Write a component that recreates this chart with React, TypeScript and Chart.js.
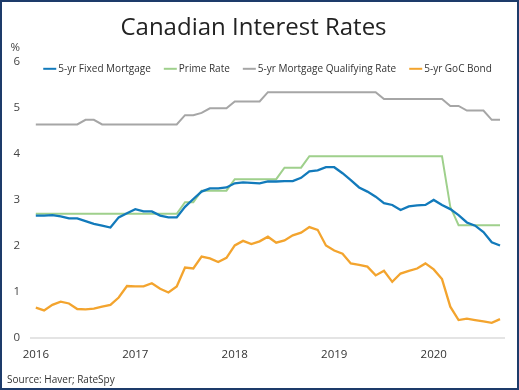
import React, { useEffect, useRef } from 'react';
import { Chart, registerables } from 'chart.js';

Chart.register(...registerables);

// ---- Data (monthly, Jan 2016 – Sep 2020) ----
const allMonths: string[] = [];
for (let y = 2016; y <= 2020; y++) {
  for (let m = 1; m <= 12; m++) allMonths.push(`${y}-${String(m).padStart(2, '0')}`);
}
const months = allMonths.slice(0, 57);

const yearLabels = ['2016', '2017', '2018', '2019', '2020'];
const yearTickIndex = yearLabels.map((y) => months.indexOf(`${y}-01`));

const fixedMortgage = [
  2.66, 2.66, 2.67, 2.64, 2.6, 2.6, 2.54, 2.48, 2.44, 2.4,
  2.62, 2.71, 2.8, 2.75, 2.75, 2.66, 2.62, 2.62, 2.85, 3.02,
  3.18, 3.25, 3.25, 3.27, 3.36, 3.38, 3.37, 3.36, 3.4, 3.4,
  3.41, 3.41, 3.48, 3.62, 3.64, 3.71, 3.71, 3.58, 3.43, 3.27,
  3.18, 3.07, 2.93, 2.89, 2.78, 2.86, 2.88, 2.89, 3.0, 2.89,
  2.8, 2.67, 2.51, 2.44, 2.3, 2.08, 2.01,
];

const primeRate = [
  2.7, 2.7, 2.7, 2.7, 2.7, 2.7, 2.7, 2.7, 2.7, 2.7,
  2.7, 2.7, 2.7, 2.7, 2.7, 2.7, 2.7, 2.7, 2.95, 2.95,
  3.2, 3.2, 3.2, 3.2, 3.45, 3.45, 3.45, 3.45, 3.45, 3.45,
  3.7, 3.7, 3.7, 3.95, 3.95, 3.95, 3.95, 3.95, 3.95, 3.95,
  3.95, 3.95, 3.95, 3.95, 3.95, 3.95, 3.95, 3.95, 3.95, 3.95,
  2.85, 2.45, 2.45, 2.45, 2.45, 2.45, 2.45,
];

const qualifyingRate = [
  4.64, 4.64, 4.64, 4.64, 4.64, 4.64, 4.74, 4.74, 4.64, 4.64,
  4.64, 4.64, 4.64, 4.64, 4.64, 4.64, 4.64, 4.64, 4.84, 4.84,
  4.89, 4.99, 4.99, 4.99, 5.14, 5.14, 5.14, 5.14, 5.34, 5.34,
  5.34, 5.34, 5.34, 5.34, 5.34, 5.34, 5.34, 5.34, 5.34, 5.34,
  5.34, 5.34, 5.19, 5.19, 5.19, 5.19, 5.19, 5.19, 5.19, 5.19,
  5.04, 5.04, 4.94, 4.94, 4.94, 4.74, 4.74,
];

const gocBond = [
  0.66, 0.6, 0.72, 0.79, 0.75, 0.63, 0.62, 0.64, 0.68, 0.72,
  0.88, 1.13, 1.12, 1.12, 1.19, 1.07, 0.99, 1.12, 1.53, 1.51,
  1.77, 1.73, 1.65, 1.74, 2.01, 2.11, 2.04, 2.1, 2.2, 2.07,
  2.12, 2.23, 2.29, 2.41, 2.35, 2.01, 1.9, 1.83, 1.62, 1.59,
  1.55, 1.36, 1.46, 1.22, 1.4, 1.46, 1.51, 1.62, 1.49, 1.28,
  0.68, 0.39, 0.42, 0.39, 0.36, 0.33, 0.41,
];

const seriesNames = ['5-yr Fixed Mortgage', 'Prime Rate', '5-yr Mortgage Qualifying Rate', '5-yr GoC Bond'];
const seriesColors = ['#127abb', '#9fd08c', '#a6a6a6', '#f3a42e'];
const seriesValues = [fixedMortgage, primeRate, qualifyingRate, gocBond];

const titleText = 'Canadian Interest Rates';
const unitText = '%';
const sourceText = 'Source: Haver; RateSpy';

const FONT = '"Open Sans", "Noto Sans", sans-serif';

const decorPlugin = {
  id: 'decor',
  afterDraw(chart: any) {
    const ctx = chart.ctx as CanvasRenderingContext2D;
    const area = chart.chartArea;
    ctx.save();

    // unit label above y ticks
    ctx.font = `11.5px ${FONT}`;
    ctx.fillStyle = '#444';
    ctx.textAlign = 'right';
    ctx.textBaseline = 'middle';
    ctx.fillText(unitText, area.left - 10, area.top - 14);

    // legend inside the plot area
    ctx.font = `10px ${FONT}`;
    const lineLen = 13;
    const gap = 2;
    const itemGap = 13;
    const ds = chart.data.datasets;
    const widths = ds.map((d: any) => lineLen + gap + ctx.measureText(d.label).width);
    const total = widths.reduce((a: number, b: number) => a + b, 0) + itemGap * (ds.length - 1);
    let x = (area.left + area.right) / 2 - total / 2;
    const y = area.top + 7;
    ds.forEach((d: any, i: number) => {
      ctx.strokeStyle = d.borderColor;
      ctx.lineWidth = 2;
      ctx.beginPath();
      ctx.moveTo(x, y);
      ctx.lineTo(x + lineLen, y);
      ctx.stroke();
      ctx.fillStyle = '#333';
      ctx.textAlign = 'left';
      ctx.fillText(d.label, x + lineLen + gap, y);
      x += widths[i] + itemGap;
    });

    // source note
    ctx.font = `10px ${FONT}`;
    ctx.fillStyle = '#333';
    ctx.textAlign = 'left';
    ctx.fillText(sourceText, 5, chart.height - 8);
    ctx.restore();
  },
};

export default function App() {
  const ref = useRef<HTMLCanvasElement>(null);

  useEffect(() => {
    document.body.style.margin = '0';
    if (!ref.current) return;
    const chart = new Chart(ref.current, {
      type: 'line',
      data: {
        datasets: seriesValues.map((vals, k) => ({
          label: seriesNames[k],
          data: vals.map((v, i) => ({ x: i, y: v })),
          borderColor: seriesColors[k],
          backgroundColor: seriesColors[k],
          borderWidth: k === 1 || k === 2 ? 2 : 2.3,
          pointRadius: 0,
          tension: 0,
          fill: false,
        })),
      },
      options: {
        animation: false,
        responsive: true,
        maintainAspectRatio: false,
        layout: { padding: { left: 0, right: 12, top: 0, bottom: 0 } },
        plugins: {
          legend: { display: false },
          tooltip: { enabled: false },
          title: {
            display: true,
            text: titleText,
            color: '#222',
            font: { family: FONT, size: 24, weight: 'normal' },
            padding: { top: 12, bottom: 19 },
          },
        },
        scales: {
          x: {
            type: 'linear',
            min: -0.7,
            max: 56.6,
            afterBuildTicks: (scale: any) => {
              scale.ticks = yearTickIndex.map((v) => ({ value: v }));
            },
            afterFit: (scale: any) => {
              scale.height = 50;
            },
            grid: { display: false, drawTicks: false },
            border: { display: false },
            ticks: {
              autoSkip: false,
              maxRotation: 0,
              padding: 10,
              color: '#333',
              font: { family: FONT, size: 11.5 },
              callback: (v: any) => {
                const idx = yearTickIndex.indexOf(Number(v));
                return idx >= 0 ? yearLabels[idx] : '';
              },
            },
          },
          y: {
            min: 0,
            max: 6,
            afterFit: (scale: any) => {
              scale.width = 28;
            },
            grid: {
              drawTicks: false,
              lineWidth: 2,
              color: (c: any) => (c.tick && c.tick.value === 0 ? '#e4e4e4' : 'rgba(0,0,0,0)'),
            },
            border: { display: false },
            ticks: {
              stepSize: 1,
              padding: 10,
              color: '#444',
              font: { family: FONT, size: 11.5 },
            },
          },
        },
      },
      plugins: [decorPlugin],
    });
    return () => chart.destroy();
  }, []);

  return (
    <div
      style={{
        width: 519,
        height: 390,
        boxSizing: 'border-box',
        border: '2px solid #1d3b6a',
        position: 'relative',
        background: '#fff',
      }}
    >
      <canvas ref={ref} />
    </div>
  );
}
